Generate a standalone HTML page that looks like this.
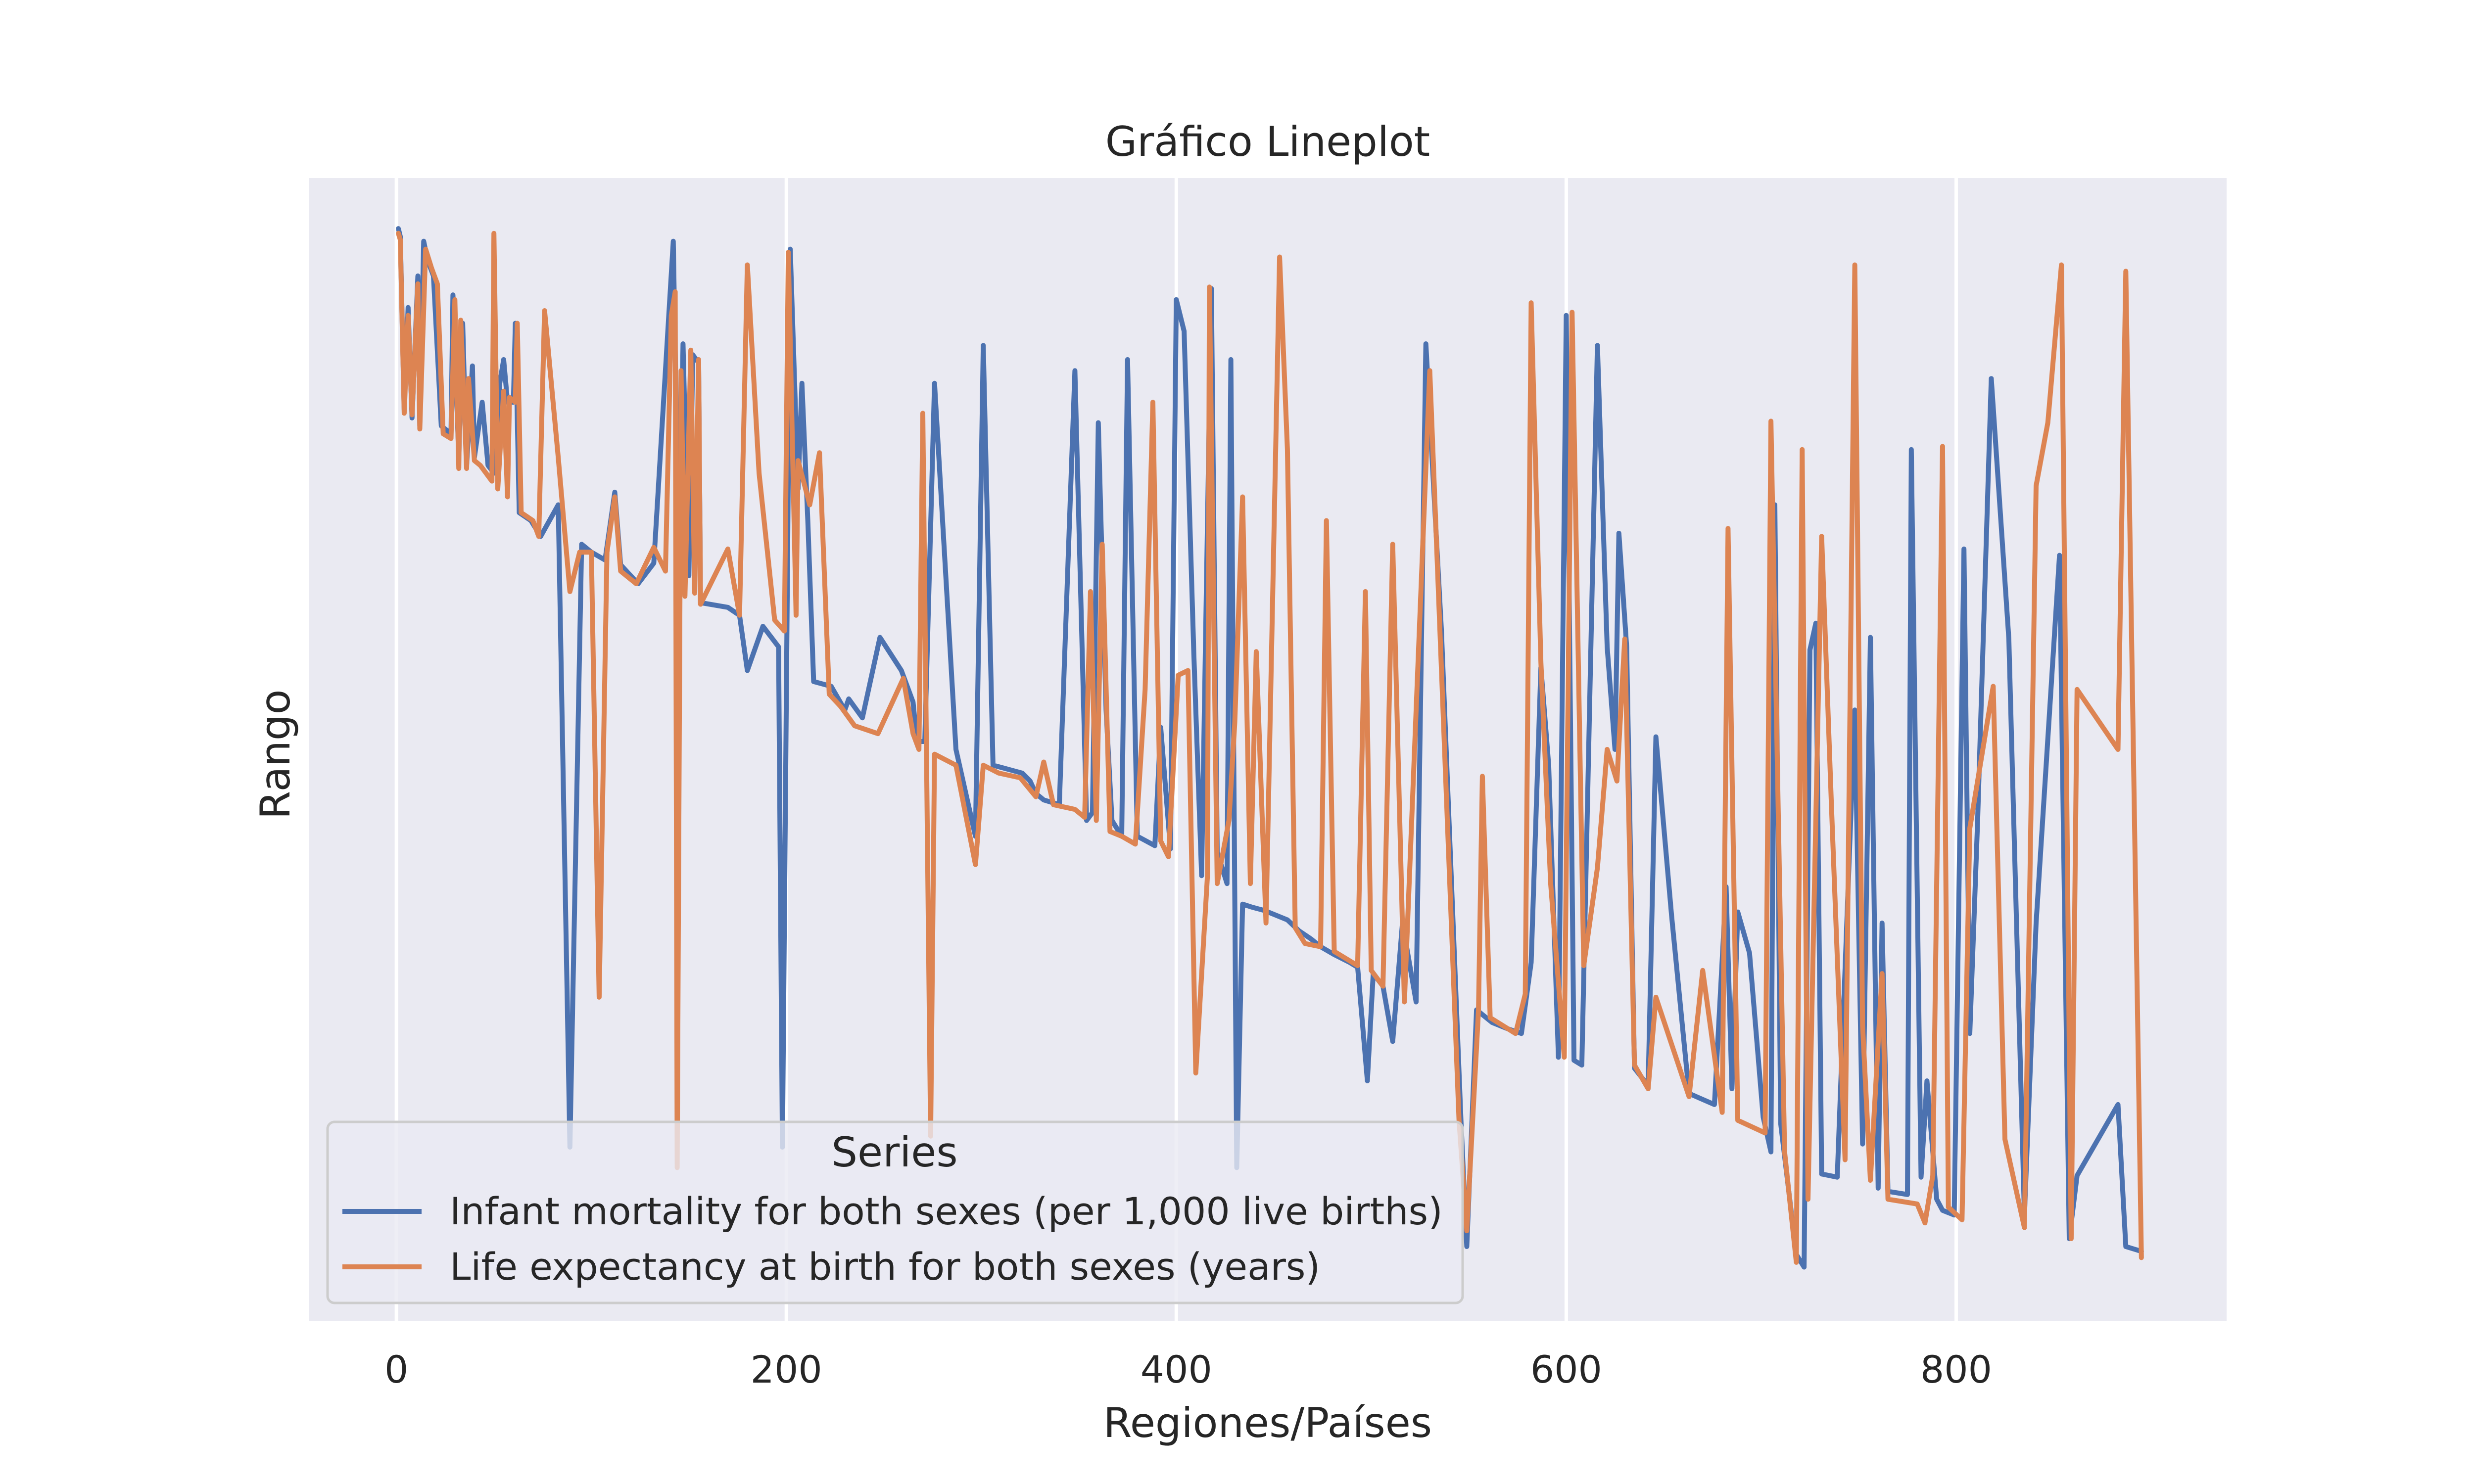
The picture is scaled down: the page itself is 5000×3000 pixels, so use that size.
<!DOCTYPE html>
<html><head><meta charset="utf-8"><style>
html,body{margin:0;padding:0;background:#fff;}
svg{display:block;font-family:"DejaVu Sans","Liberation Sans",sans-serif;}
</style></head><body>
<svg id="chart" width="5000" height="3000" viewBox="0 0 5000 3000" xmlns="http://www.w3.org/2000/svg">
<rect x="0" y="0" width="5000" height="3000" fill="#ffffff"/>
<rect x="625" y="360" width="3875" height="2310" fill="#eaeaf2"/>
<g id="grid"></g>
<g id="series"></g>
<g id="xticks"></g>
<text x="2562" y="315" text-anchor="middle" font-size="83" fill="#262626">Gráfico Lineplot</text>
<text x="2562" y="2905" text-anchor="middle" font-size="83" fill="#262626">Regiones/Países</text>
<text x="0" y="0" transform="translate(585,1525) rotate(-90)" text-anchor="middle" font-size="83" fill="#262626">Rango</text>
<g>
<rect x="662" y="2268" width="2294" height="366" rx="14" fill="#eaeaf2" fill-opacity="0.8" stroke="#cccccc" stroke-width="5"/>
<text x="1808" y="2358" text-anchor="middle" font-size="83" fill="#262626">Series</text>
<line x1="692" y1="2449" x2="852" y2="2449" stroke="#4c72b0" stroke-width="10"/>
<text x="909" y="2475" font-size="76" fill="#262626">Infant mortality for both sexes (per 1,000 live births)</text>
<line x1="692" y1="2561" x2="852" y2="2561" stroke="#dd8452" stroke-width="10"/>
<text x="909" y="2587" font-size="76" fill="#262626">Life expectancy at birth for both sexes (years)</text>
</g>
</svg>
<script>
const xTicks = [0, 200, 400, 600, 800];
const xTickLabels = ["0", "200", "400", "600", "800"];
const blueX = [1,2,4,6,8,11,12,14,16,19,23,28,29,32,34,36,39,40,44,47,50,53,55,57,60,61,63,69,74,83,89,95,100,107,112,115,124,132,142,145,147,150,152,155,156,170,176,180,188,196,198,202,206,208,211,214,223,230,232,239,248,259,265,267,271,276,287,297,301,306,321,325,328,332,340,348,354,357,360,364,367,372,375,380,389,392,397,400,404,409,413,418,421,426,428,431,434,439,445,451,457,463,469,474,481,489,493,498,501,506,511,516,523,528,536,546,549,554,562,570,577,582,587,591,596,600,604,608,616,621,625,627,631,635,642,646,654,663,676,682,685,688,694,701,705,707,710,718,722,725,728,731,739,748,752,756,760,762,765,775,777,782,785,790,793,799,804,807,811,818,827,835,841,853,858,862,883,887,895];
const blueY = [692,687,577,642,572,662,567,684,672,662,567,562,650,547,632,542,605,547,582,542,537,594,609,582,582,632,512,507,497,517,110,492,487,482,525,479,467,480,684,472,619,472,612,607,455,452,447,412,440,427,110,679,527,594,507,405,402,387,394,382,433,412,392,367,367,594,362,307,618,352,347,342,334,330,327,602,317,322,569,387,317,307,609,307,301,376,299,647,627,422,282,654,297,277,609,97,264,262,260,257,254,247,242,237,232,227,224,152,220,212,177,252,202,619,437,127,47,197,189,185,182,227,414,352,167,637,165,162,618,427,362,499,427,160,149,370,257,144,137,275,147,259,233,129,107,517,125,42,34,425,442,93,91,387,112,433,84,252,82,80,552,91,152,77,70,67,489,182,317,597,432,67,252,485,52,92,137,47,44];
const orangeX = [1,2,4,6,8,11,12,15,18,21,24,28,30,32,33,36,37,40,43,49,50,52,55,57,58,61,62,64,70,73,76,83,89,94,100,104,108,112,115,123,132,138,141,143,144,146,148,151,153,155,156,170,176,180,186,194,199,201,205,206,212,217,222,228,235,247,260,265,268,270,274,276,287,297,301,309,320,328,332,337,348,353,356,359,362,366,372,379,384,388,392,396,401,406,410,416,417,421,427,430,434,438,441,446,453,457,461,466,474,477,481,493,497,500,506,511,517,530,545,549,555,557,561,574,579,582,587,592,599,603,609,616,621,626,630,635,642,646,663,670,680,683,688,702,705,712,718,721,724,731,736,743,748,752,756,762,765,780,784,788,793,796,803,807,811,819,825,835,841,847,854,859,862,883,887,895];
const orangeY = [689,685,575,637,574,657,565,679,667,657,562,559,647,540,634,540,597,545,542,532,689,527,589,522,585,582,632,512,507,497,640,547,462,487,487,205,487,522,475,467,490,475,637,652,97,602,459,615,461,609,454,489,447,669,537,444,437,677,447,545,517,550,397,389,377,372,407,372,362,575,117,359,352,289,352,347,344,332,354,327,324,319,462,317,492,310,307,302,400,582,304,294,409,412,157,282,655,277,317,379,522,277,424,252,674,552,249,239,237,507,234,225,462,222,212,492,202,602,127,57,197,345,192,182,207,645,417,277,167,639,225,287,362,342,432,162,147,205,142,222,132,502,127,119,570,107,37,552,77,497,327,102,669,187,89,220,77,74,62,92,554,72,64,312,342,402,115,59,529,569,669,52,400,362,665,40];

const PL = 625, PR = 4500, PT = 360, PB = 2670;
const xMin = -44.7, xMax = 938.7, yMin = 0, yMax = 724;
function sx(v){ return PL + (v - xMin) / (xMax - xMin) * (PR - PL); }
function sy(v){ return PB - (v - yMin) / (yMax - yMin) * (PB - PT); }
const NS = "http://www.w3.org/2000/svg";

const grid = document.getElementById('grid');
const xt = document.getElementById('xticks');
xTicks.forEach((t, i) => {
  const l = document.createElementNS(NS, 'line');
  l.setAttribute('x1', sx(t)); l.setAttribute('x2', sx(t));
  l.setAttribute('y1', PT); l.setAttribute('y2', PB);
  l.setAttribute('stroke', '#ffffff'); l.setAttribute('stroke-width', '7');
  
  
  grid.appendChild(l);
  const tx = document.createElementNS(NS, 'text');
  tx.setAttribute('x', sx(t)); tx.setAttribute('y', 2795);
  tx.setAttribute('text-anchor', 'middle'); tx.setAttribute('font-size', '76');
  tx.setAttribute('fill', '#262626');
  tx.textContent = xTickLabels[i];
  
  
  xt.appendChild(tx);
});

const sg = document.getElementById('series');
function drawLine(xs, ys, color, name){
  const n = Math.min(xs.length, ys.length);
  let d = '';
  for (let i = 0; i < n; i++) d += (i ? 'L' : 'M') + sx(xs[i]).toFixed(1) + ' ' + sy(ys[i]).toFixed(1);
  const p = document.createElementNS(NS, 'path');
  p.setAttribute('d', d); p.setAttribute('fill', 'none');
  p.setAttribute('stroke', color); p.setAttribute('stroke-width', '10');
  p.setAttribute('stroke-linejoin', 'round'); p.setAttribute('stroke-linecap', 'round');
  
  
  sg.appendChild(p);
}
drawLine(blueX, blueY, '#4c72b0', 'infant-mortality-line');
drawLine(orangeX, orangeY, '#dd8452', 'life-expectancy-line');
</script>
</body></html>
